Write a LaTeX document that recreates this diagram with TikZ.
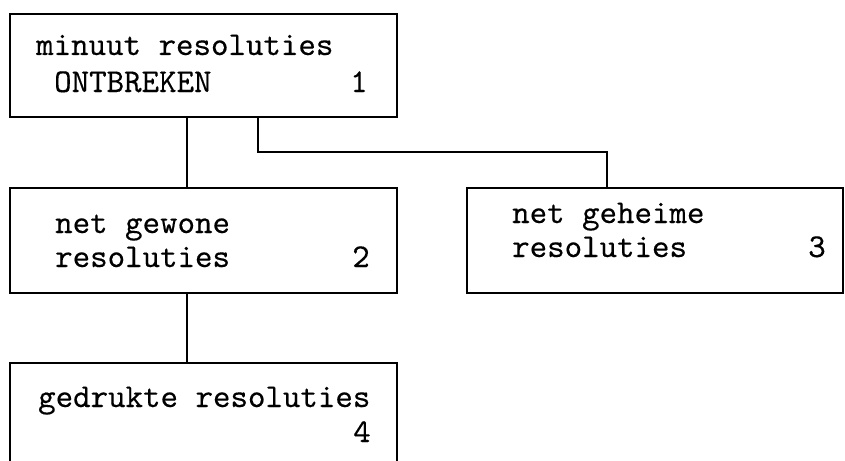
\documentclass[tikz,border=0pt]{standalone}
\usepackage{fontspec}
\setmonofont[FakeBold=0.3]{lmmono10-regular.otf}
\begin{document}
\begin{tikzpicture}[x=1pt,y=-1pt,
  box/.style={draw, line width=1.6pt, rectangle, inner sep=0pt},
  txt/.style={anchor=base west, inner sep=0pt, font=\fontsize{33.3}{40}\ttfamily},
  num/.style={anchor=base, inner sep=0pt, font=\fontsize{33.3}{40}\ttfamily},
  link/.style={line width=1.6pt}]
\useasboundingbox (0,0) rectangle (845,460);
\clip (0,0) rectangle (845,460);
\fill[white] (0,0) rectangle (845,460);
% boxes
\node[box, minimum width=387pt, minimum height=103pt] (b1) at (203.5,65.5) {};
\node[box, minimum width=387pt, minimum height=105pt] (b2) at (203.5,240.5) {};
\node[box, minimum width=376pt, minimum height=105pt] (b3) at (655,240.5) {};
\node[box, minimum width=387pt, minimum height=117pt] (b4) at (203.5,421.5) {};
% texts
\node[txt] (t1a) at (36,55) {minuut resoluties};
\node[txt] (t1b) at (54,92) {ONTBREKEN};
\node[num] (n1) at (359,92) {1};
\node[txt] (t2a) at (55,233) {net gewone};
\node[txt] (t2b) at (55,267) {resoluties};
\node[num] (n2) at (361,267) {2};
\node[txt] (t3a) at (512,223) {net geheime};
\node[txt] (t3b) at (512,257) {resoluties};
\node[num] (n3) at (817,257) {3};
\node[txt] (t4a) at (38,407) {gedrukte resoluties};
\node[num] (n4) at (362,442) {4};
% connectors
\coordinate (c1) at (187,0);
\coordinate (c2) at (258,0);
\coordinate (k) at (607,152);
\draw[link] (b1.south -| c1) -- (b2.north -| c1);
\draw[link] (b1.south -| c2) |- (k) -- (b3.north -| k);
\draw[link] (b2.south -| c1) -- (b4.north -| c1);
\end{tikzpicture}
\end{document}
